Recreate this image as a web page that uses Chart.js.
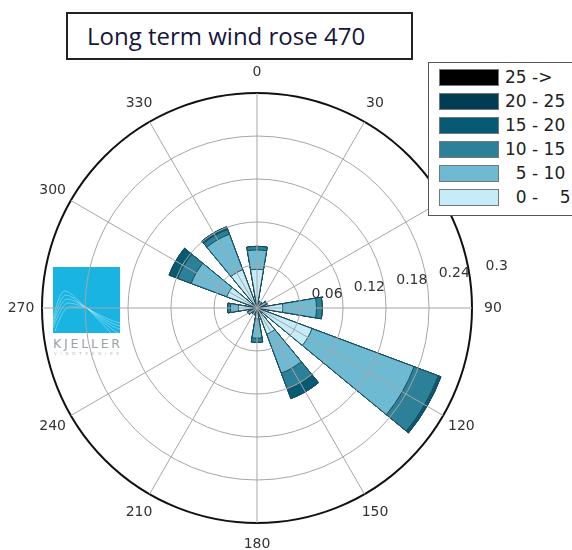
<!DOCTYPE html>
<html>
<head>
<meta charset="utf-8">
<title>Long term wind rose 470</title>
<script src="https://cdn.jsdelivr.net/npm/chart.js@4.4.1/dist/chart.umd.min.js"></script>
<style>
  html, body { margin: 0; padding: 0; background: #fff; }
  #wrap { position: relative; width: 572px; height: 550px; overflow: hidden; font-family: "DejaVu Sans", sans-serif; }
  #chartBox { position: absolute; left: 0; top: 0; width: 572px; height: 550px; z-index: 1; }
  #logo { position: absolute; left: 53px; top: 267px; z-index: 0; }
  #title {
    position: absolute; left: 66px; top: 12px; width: 347px; height: 48px; box-sizing: border-box;
    border: 2px solid #222; z-index: 2; background: #fff;
    font-family: "Open Sans", sans-serif; font-size: 24px; color: #16163e;
    line-height: 44px; padding-left: 19px; white-space: nowrap;
  }
  #legend {
    position: absolute; left: 428px; top: 62px; width: 160px; height: 154px; box-sizing: border-box;
    border: 1px solid #555; background: #fff; z-index: 2;
  }
  .row { position: absolute; left: 10px; height: 18px; }
  .sw { position: absolute; left: 0; top: 0; width: 60px; height: 17px; box-sizing: border-box; border: 1px solid #777; }
  .lt { position: absolute; left: 66px; top: -3px; font-size: 17px; line-height: 22px; color: #222; white-space: pre; }
</style>
</head>
<body>
<div id="wrap">
  <svg id="logo" width="70" height="92" viewBox="0 0 70 92">
    <rect x="0" y="0" width="67" height="66" fill="#19b4e2"/>
    <g fill="none" stroke="#ffffff" stroke-opacity="0.5" stroke-width="0.7">
      <path d="M0 52 C 4 34, 8 24, 12 24 C 18 24, 26 36, 34 41 C 46 48, 58 54, 67 56"/>
      <path d="M0 55 C 5 38, 9 28, 13 28 C 19 28, 26 37, 34 41 C 46 49, 58 57, 67 59"/>
      <path d="M0 58 C 5 42, 10 32, 14 32 C 20 32, 27 38, 34 41 C 46 50, 58 60, 67 62"/>
      <path d="M0 61 C 6 46, 11 36, 15 36 C 21 36, 28 39, 34 41 C 46 51, 57 62, 65 66"/>
      <path d="M2 64 C 7 50, 12 40, 16 40 C 22 40, 29 40, 34 41 C 45 52, 54 62, 58 66"/>
    </g>
    <text x="0" y="81" textLength="67" lengthAdjust="spacing" font-family="DejaVu Sans" font-size="12.5" fill="#98a3aa">KJELLER</text>
    <text x="1" y="88" textLength="65" lengthAdjust="spacing" font-family="DejaVu Sans" font-size="4" fill="#b4bdc2">VINDTEKNIKK</text>
  </svg>
  <div id="chartBox"><canvas id="rose"></canvas></div>
  <div id="title">Long term wind rose 470</div>
  <div id="legend"></div>
</div>
<script>
// Wind directions (degrees) and the fraction of time in each speed bin (m/s)
const directions = [0, 30, 60, 90, 120, 150, 180, 210, 240, 270, 300, 330];
const speedBins = ['0-  5', '5 - 10', '10 - 15', '15 - 20', '20 - 25', '25 ->'];
const legendText = ['  0 -    5', '  5 - 10', '10 - 15', '15 - 20', '20 - 25', '25 ->'];
const bin0to5   = [0.054, 0.006, 0.008, 0.036, 0.082, 0.039, 0.015, 0.006, 0.008, 0.026, 0.045, 0.057];
const bin5to10  = [0.027, 0.004, 0.005, 0.047, 0.152, 0.058, 0.027, 0.004, 0.005, 0.011, 0.053, 0.053];
const bin10to15 = [0.005, 0.000, 0.002, 0.008, 0.036, 0.024, 0.006, 0.000, 0.001, 0.004, 0.020, 0.007];
const bin15to20 = [0.000, 0.000, 0.000, 0.000, 0.004, 0.014, 0.000, 0.000, 0.000, 0.000, 0.013, 0.004];
const bin20to25 = [0, 0, 0, 0, 0, 0, 0, 0, 0, 0, 0, 0];
const bin25up   = [0, 0, 0, 0, 0, 0, 0, 0, 0, 0, 0, 0];
const radialTicks = ['0.06', '0.12', '0.18', '0.24', '0.3'];
const binColors = ['#c6ecf8', '#6fbad3', '#2c8199', '#075a73', '#023c52', '#000000'];

const bins = [bin0to5, bin5to10, bin10to15, bin15to20, bin20to25, bin25up];
const SECTOR = 360 / directions.length;   // spacing between directions
const BAR = 19;                           // angular width of each petal
const R_MAX = 0.3;

// stacked petals: each dataset reaches the cumulative total up to its bin
const running = directions.map(() => 0);
const cumulative = bins.map(b => b.map((v, i) => (running[i] += v)));

// each direction is a petal followed by an empty gap element
const labels = [];
directions.forEach(d => { labels.push(String(d)); labels.push(''); });

const datasets = cumulative.map((cum, k) => ({
  label: speedBins[k],
  data: cum.flatMap(v => [v, 0]),
  backgroundColor: c => (c.dataIndex % 2 ? 'rgba(0,0,0,0)' : binColors[k]),
  borderColor: '#1b4a5a',
  borderWidth: c => (c.dataIndex % 2 ? 0 : 1),
  angle: c => (c.dataIndex % 2 ? SECTOR - BAR : BAR)
}));

// legend
const legend = document.getElementById('legend');
for (let k = bins.length - 1, row = 0; k >= 0; k--, row++) {
  const r = document.createElement('div');
  r.className = 'row';
  r.style.top = (6 + row * 24) + 'px';
  const sw = document.createElement('div');
  sw.className = 'sw';
  sw.style.background = binColors[k];
  const t = document.createElement('div');
  t.className = 'lt';
  t.textContent = legendText[k];
  r.appendChild(sw); r.appendChild(t);
  legend.appendChild(r);
}

// direction labels around the rim and radial tick labels
const roseLabels = {
  id: 'roseLabels',
  afterDraw(chart) {
    const s = chart.scales.dir;
    const ctx = chart.ctx;
    ctx.save();
    ctx.font = '14px "DejaVu Sans"';
    ctx.fillStyle = '#333';
    ctx.textAlign = 'center';
    ctx.textBaseline = 'middle';
    directions.forEach((d, i) => {
      const p = s.getPointPosition(i, s.drawingArea + 21);
      ctx.fillText(String(d), p.x, p.y);
    });
    const east = directions.indexOf(90);
    const tilt = -9.5 * Math.PI / 180;
    radialTicks.forEach(t => {
      const p = s.getPointPosition(east, s.getDistanceFromCenterForValue(parseFloat(t)) + 28, tilt);
      ctx.fillText(t, p.x, p.y - 2);
    });
    ctx.restore();
  }
};

new Chart(document.getElementById('rose'), {
  type: 'polarArea',
  data: { labels, datasets },
  options: {
    responsive: true,
    maintainAspectRatio: false,
    animation: false,
    events: [],
    layout: { padding: { left: 42, top: 93, right: 100, bottom: 27 } },
    plugins: { legend: { display: false }, tooltip: { enabled: false } },
    scales: {
      r: {
        min: 0, max: R_MAX,
        startAngle: -BAR / 2,
        grid: { display: false },
        angleLines: { display: false },
        pointLabels: { display: false },
        ticks: { display: false, stepSize: 0.06 }
      },
      dir: {
        type: 'radialLinear',
        axis: 'r',
        min: 0, max: R_MAX,
        startAngle: 0,
        labels: directions.map(String),
        grid: {
          circular: true,
          z: 1,
          color: c => (c.index === radialTicks.length ? '#111' : '#a6a6a6'),
          lineWidth: c => (c.index === radialTicks.length ? 2 : 1)
        },
        angleLines: { display: true, color: '#a6a6a6', lineWidth: 1 },
        pointLabels: { display: false },
        ticks: { display: false, stepSize: 0.06 }
      }
    }
  },
  plugins: [roseLabels]
});
</script>
</body>
</html>
